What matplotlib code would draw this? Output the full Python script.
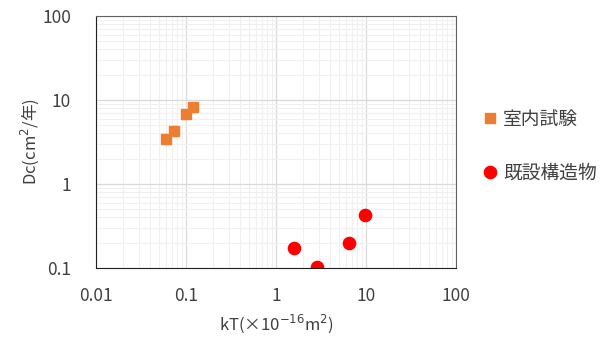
import matplotlib
matplotlib.use('Agg')
import matplotlib.pyplot as plt
from matplotlib.ticker import LogLocator, FixedLocator, FixedFormatter

plt.rcParams['font.family'] = ['Noto Sans CJK JP', 'DejaVu Sans']

# data
lab_kt = [0.0594, 0.073, 0.099, 0.12]
lab_dc = [3.4, 4.3, 6.76, 8.3]
site_kt = [1.58, 2.83, 6.5, 9.75]
site_dc = [0.175, 0.103, 0.2, 0.43]

x_ticks = [0.01, 0.1, 1, 10, 100]
x_labels = ['0.01', '0.1', '1', '10', '100']
y_ticks = [0.1, 1, 10, 100]
y_labels = ['0.1', '1', '10', '100']

fig = plt.figure(figsize=(6.14, 3.38), dpi=100)
ax = fig.add_axes([96 / 614, 70 / 338, 360 / 614, 252 / 338])

ax.set_xscale('log')
ax.set_yscale('log')
ax.set_xlim(0.01, 100)
ax.set_ylim(0.1, 100)

ax.xaxis.set_major_locator(FixedLocator(x_ticks))
ax.xaxis.set_major_formatter(FixedFormatter(x_labels))
ax.yaxis.set_major_locator(FixedLocator(y_ticks))
ax.yaxis.set_major_formatter(FixedFormatter(y_labels))
ax.xaxis.set_minor_locator(LogLocator(base=10, subs=range(2, 10)))
ax.yaxis.set_minor_locator(LogLocator(base=10, subs=range(2, 10)))
ax.xaxis.set_minor_formatter(plt.NullFormatter())
ax.yaxis.set_minor_formatter(plt.NullFormatter())

ax.grid(True, which='major', color='#d9d9d9', linewidth=0.9)
ax.grid(True, which='minor', color='#f0f0f0', linewidth=0.8)
ax.set_axisbelow(True)
ax.tick_params(which='both', length=0, labelsize=12.5, colors='#404040')
ax.tick_params(axis='x', pad=14)
ax.tick_params(axis='y', pad=18)

for side in ['left', 'bottom']:
    ax.spines[side].set_color('#202020')
for side in ['top', 'right']:
    ax.spines[side].set_color('#606060')

ax.plot(lab_kt, lab_dc, 's', color='#ed7d31', markersize=7.2, linestyle='none', label='室内試験')
ax.plot(site_kt, site_dc, 'o', color='#ff0000', markersize=8.8, linestyle='none', label='既設構造物')

ax.set_xlabel('kT(×10$^{-16}$m$^{2}$)', fontsize=12, color='#404040', labelpad=5)
ax.set_ylabel('Dc(cm$^{2}$/年)', fontsize=12, color='#404040', labelpad=1)

leg = fig.legend(loc='upper left', bbox_to_anchor=(464 / 614, 1 - 92 / 338), frameon=False,
                 fontsize=13.5, labelspacing=1.75, handletextpad=0.2, handlelength=1.0, labelcolor='#404040')

fig.savefig('out.png', dpi=100)
